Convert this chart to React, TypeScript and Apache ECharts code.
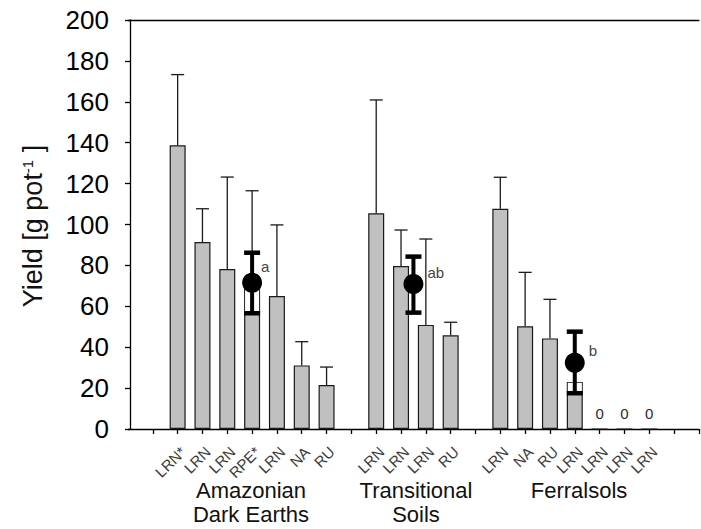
import React, { useEffect, useRef } from "react";
import * as echarts from "echarts";

// Category slots along the x axis (first and last slots are empty spacing slots)
const categories = ["", "", "LRN*", "LRN", "LRN", "RPE*", "LRN", "NA", "RU", "", "LRN", "LRN", "LRN", "RU", "", "LRN", "NA", "RU", "LRN", "LRN", "LRN", "LRN", "", ""];
// Bar means (g pot-1)
const yieldMean = [null, null, 138.7, 91.4, 78.2, 69.4, 65, 31.1, 21.5, null, 105.5, 79.7, 50.9, 45.8, null, 107.7, 50.2, 44.3, 23, 0, 0, 0, null, null];
// Upper end of the error bar for each bar
const yieldUpper = [null, null, 173.3, 107.7, 123.2, 116.5, 99.8, 42.7, 30.3, null, 160.9, 97.3, 92.9, 52.2, null, 123.1, 76.6, 63.4, null, null, null, null, null, null];

// Soil group means (black dots)
const groupPos = [5, 11.5, 18];
const groupMean = [71.5, 70.9, 32.4];
const groupLow = [56.6, 56.9, 17.5];
const groupHigh = [86.2, 84.3, 47.6];
const groupLetter = ["a", "ab", "b"];

// Soil group names
const groupNames = ["Amazonian\nDark Earths", "Transitional\nSoils", "Ferralsols"];

const yTicks = { min: 0, max: 200, interval: 20 };

const FONT = "'Liberation Sans', Arial, Helvetica, sans-serif";
const BAR_W = 16;

export default function App() {
  const ref = useRef<HTMLDivElement>(null);
  useEffect(() => {
    if (!ref.current) return;
    const chart = echarts.init(ref.current, null, { renderer: "svg" });

    const errData = yieldMean
      .map((m, i) => [i, m, yieldUpper[i]])
      .filter((d) => d[1] != null && d[2] != null);

    const groupData = groupPos.map((x, i) => [x, groupMean[i], groupLow[i], groupHigh[i], i]);

    const option: any = {
      animation: false,
      backgroundColor: "#fff",
      grid: { left: 128, top: 20, bottom: 100, right: -7.5, containLabel: false },
      xAxis: [
        {
          type: "category",
          data: categories,
          boundaryGap: false,
          position: "bottom",
          axisLine: { show: true, lineStyle: { color: "#000", width: 1.3 } },
          axisTick: {
            show: true,
            length: 5,
            interval: (i: number) => i !== 0,
            lineStyle: { color: "#000", width: 1.3 },
          },
          axisLabel: {
            interval: 0,
            rotate: 45,
            fontSize: 15,
            color: "#3a3a3a",
            fontFamily: FONT,
            margin: 15,
            align: "right",
            verticalAlign: "top",
          },
          splitLine: { show: false },
        },
        {
          type: "value",
          position: "top",
          min: 0,
          max: categories.length - 1,
          axisLine: { show: true, onZero: false, lineStyle: { color: "#000", width: 1.3 } },
          axisTick: { show: false },
          axisLabel: { show: false },
          splitLine: { show: false },
        },
      ],
      yAxis: {
        type: "value",
        min: yTicks.min,
        max: yTicks.max,
        interval: yTicks.interval,
        offset: -2,
        axisLine: { show: true, lineStyle: { color: "#000", width: 1.3 } },
        axisTick: { show: true, length: 5, lineStyle: { color: "#000", width: 1.3 } },
        axisLabel: { fontSize: 26, color: "#000", fontFamily: FONT, margin: 21 },
        splitLine: { show: false },
      },
      series: [
        {
          type: "bar",
          xAxisIndex: 0,
          yAxisIndex: 0,
          data: yieldMean,
          barWidth: BAR_W,
          z: 2,
          itemStyle: { color: "#c0c0c0", borderColor: "#1a1a1a", borderWidth: 1.2 },
          label: {
            show: true,
            position: "top",
            distance: 7,
            fontSize: 15,
            color: "#2a2a2a",
            textBorderWidth: 0,
            fontFamily: FONT,
            formatter: (p: any) => (p.value === 0 ? "0" : ""),
          },
        },
        {
          type: "custom",
          xAxisIndex: 0,
          yAxisIndex: 0,
          z: 3,
          data: errData,
          renderItem: (params: any, api: any) => {
            const x = api.value(0);
            const p0 = api.coord([x, api.value(1)]);
            const p1 = api.coord([x, api.value(2)]);
            const st = { stroke: "#1a1a1a", lineWidth: 1.3 };
            return {
              type: "group",
              children: [
                { type: "line", shape: { x1: p0[0], y1: p0[1], x2: p1[0], y2: p1[1] }, style: st },
                { type: "line", shape: { x1: p1[0] - 6.5, y1: p1[1], x2: p1[0] + 6.5, y2: p1[1] }, style: st },
              ],
            };
          },
        },
        {
          type: "custom",
          xAxisIndex: 1,
          yAxisIndex: 0,
          z: 4,
          data: groupData,
          renderItem: (params: any, api: any) => {
            const x = api.value(0);
            const idx = api.value(4);
            const pm = api.coord([x, api.value(1)]);
            const pl = api.coord([x, api.value(2)]);
            const ph = api.coord([x, api.value(3)]);
            const children: any[] = [];
            const barVal = Number.isInteger(x) ? yieldMean[x] : null;
            if (barVal != null && barVal > api.value(2)) {
              const top = Math.min(barVal, api.value(1));
              const pt = api.coord([x, top]);
              children.push({
                type: "rect",
                shape: { x: pm[0] - BAR_W / 2 + 1, y: pt[1] + 0.8, width: BAR_W - 2, height: pl[1] - pt[1] - 0.8 },
                style: { fill: "#fff" },
              });
            }
            const thick = { stroke: "#000", lineWidth: 4 };
            const cap = { stroke: "#000", lineWidth: 4.5 };
            children.push(
              { type: "line", shape: { x1: pl[0], y1: pl[1], x2: ph[0], y2: ph[1] }, style: thick },
              { type: "line", shape: { x1: ph[0] - 8, y1: ph[1], x2: ph[0] + 8, y2: ph[1] }, style: cap },
              { type: "line", shape: { x1: pl[0] - 8, y1: pl[1], x2: pl[0] + 8, y2: pl[1] }, style: cap },
              { type: "circle", shape: { cx: pm[0], cy: pm[1], r: 10 }, style: { fill: "#000" } },
              {
                type: "text",
                x: pm[0] + (idx === 0 ? 9 : 14),
                y: pm[1] - (idx === 0 ? 16 : 12),
                style: {
                  text: groupLetter[idx],
                  fill: "#444",
                  fontSize: 15,
                  fontFamily: FONT,
                  align: "left",
                  verticalAlign: "middle",
                  textAlign: "left",
                  textVerticalAlign: "middle",
                },
              }
            );
            return { type: "group", children };
          },
        },
      ],
      graphic: [
        ...[251, 416, 579].map((gx, i) => ({
          type: "text",
          x: gx,
          y: 478,
          style: {
            text: groupNames[i],
            fill: "#111",
            fontSize: 22,
            lineHeight: 24,
            fontFamily: FONT,
            align: "center",
            textAlign: "center",
            verticalAlign: "top",
            textVerticalAlign: "top",
          },
        })),
        {
          type: "text",
          x: 33,
          y: 226,
          rotation: Math.PI / 2,
          style: {
            text: "{m|Yield [g pot}{s|-1}{m| ]}",
            fill: "#111",
            fontFamily: FONT,
            align: "center",
            textAlign: "center",
            verticalAlign: "middle",
            textVerticalAlign: "middle",
            rich: {
              m: { fontSize: 27, fontFamily: FONT, fill: "#111" },
              s: { fontSize: 15, fontFamily: FONT, fill: "#111", verticalAlign: "top" },
            },
          },
        },
      ],
    };

    chart.setOption(option);
    return () => chart.dispose();
  }, []);

  return (
    <div
      ref={ref}
      style={{ position: "fixed", left: 0, top: 0, width: 701, height: 529, background: "#fff" }}
    />
  );
}
